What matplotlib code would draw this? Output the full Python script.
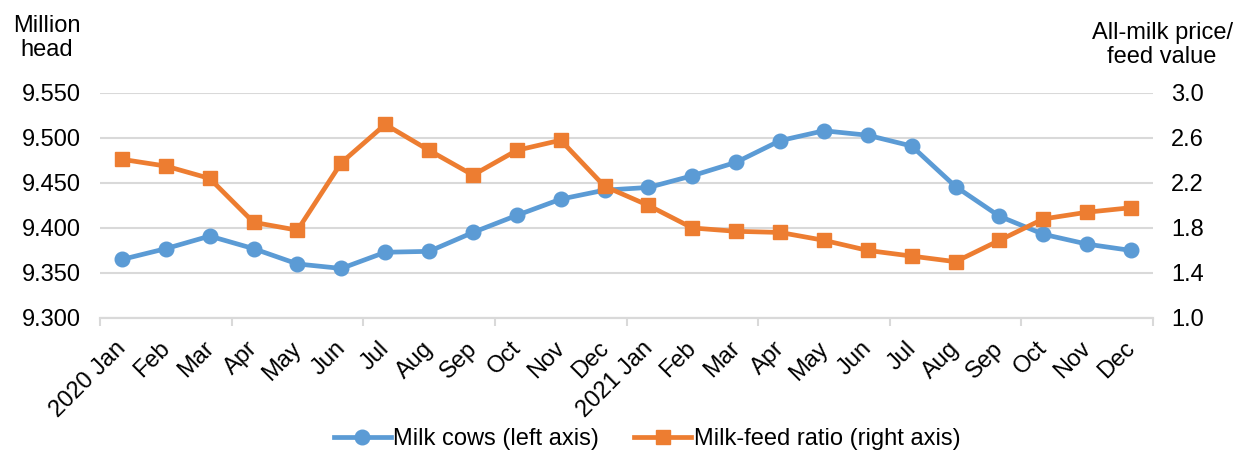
import matplotlib.pyplot as plt
import matplotlib.transforms as mtransforms
import numpy as np

plt.rcParams['font.family'] = ['Liberation Sans', 'DejaVu Sans']

months = ['2020 Jan', 'Feb', 'Mar', 'Apr', 'May', 'Jun', 'Jul', 'Aug', 'Sep', 'Oct', 'Nov', 'Dec',
          '2021 Jan', 'Feb', 'Mar', 'Apr', 'May', 'Jun', 'Jul', 'Aug', 'Sep', 'Oct', 'Nov', 'Dec']
milk_cows = [9.365, 9.377, 9.391, 9.377, 9.360, 9.355, 9.373, 9.374, 9.395, 9.414, 9.432, 9.442,
             9.445, 9.458, 9.473, 9.497, 9.508, 9.503, 9.491, 9.446, 9.413, 9.393, 9.382, 9.375]
milk_feed = [2.41, 2.35, 2.24, 1.85, 1.78, 2.38, 2.72, 2.49, 2.27, 2.49, 2.58, 2.17,
             2.00, 1.80, 1.77, 1.76, 1.69, 1.60, 1.55, 1.50, 1.69, 1.88, 1.94, 1.98]
left_ticks = [9.300, 9.350, 9.400, 9.450, 9.500, 9.550]
right_ticks = [1.0, 1.4, 1.8, 2.2, 2.6, 3.0]

blue = '#5B9BD5'
orange = '#ED7D31'
grid_c = '#D9D9D9'

fig = plt.figure(figsize=(12.35, 4.51), dpi=100)
ax = fig.add_axes([0.081, 0.295, 0.8526, 0.4989])
ax2 = ax.twinx()

x = np.arange(len(months))

l1, = ax.plot(x, milk_cows, color=blue, lw=3.4, marker='o', markersize=10.5, label='Milk cows (left axis)')
l2, = ax2.plot(x, milk_feed, color=orange, lw=3.4, marker='s', markersize=10.5, label='Milk-feed ratio (right axis)')
# orange series sits on top of blue, as in the reference
ax2.patch.set_visible(False)

ax.set_ylim(9.300, 9.550)
ax.set_yticks(left_ticks)
ax.set_yticklabels([f'{v:.3f}' for v in left_ticks])
ax2.set_ylim(1.0, 3.0)
ax2.set_yticks(right_ticks)
ax2.set_yticklabels([f'{v:.1f}' for v in right_ticks])

ax.set_xlim(-0.5, len(months) - 0.5)
ax.set_xticks(x)
ax.set_xticklabels(months, rotation=45, ha='right', rotation_mode='anchor', fontsize=17)
ax.set_xticks(np.arange(-0.5, len(months), 3), minor=True)
ax.tick_params(axis='x', which='major', length=0, pad=14)
ax.tick_params(axis='x', which='minor', length=6, color=grid_c, width=1.5)
# nudge rotated labels a little to the left
shift = mtransforms.ScaledTranslation(-7 / 100, 0, fig.dpi_scale_trans)
for lbl in ax.get_xticklabels():
    lbl.set_transform(lbl.get_transform() + shift)

ax.grid(axis='y', color=grid_c, lw=1.5)
ax.set_axisbelow(True)
for a in (ax, ax2):
    for s in ['top', 'left', 'right']:
        a.spines[s].set_visible(False)
    a.spines['bottom'].set_color(grid_c)
    a.spines['bottom'].set_linewidth(1.5)
ax.tick_params(axis='y', length=0, labelsize=17, pad=14)
ax2.tick_params(axis='y', length=0, labelsize=17, pad=13)

fig.text(0.038, 0.915, 'Million\nhead', ha='center', va='center', fontsize=17, linespacing=1.1)
fig.text(0.941, 0.90, 'All-milk price/\nfeed value', ha='center', va='center', fontsize=17, linespacing=1.1)

fig.legend(handles=[l1, l2], loc='center', bbox_to_anchor=(0.524, 0.027), ncol=2, frameon=False,
           fontsize=17, handlelength=2.4, columnspacing=1.5, handletextpad=0.1)

fig.savefig('out.png', dpi=100)
